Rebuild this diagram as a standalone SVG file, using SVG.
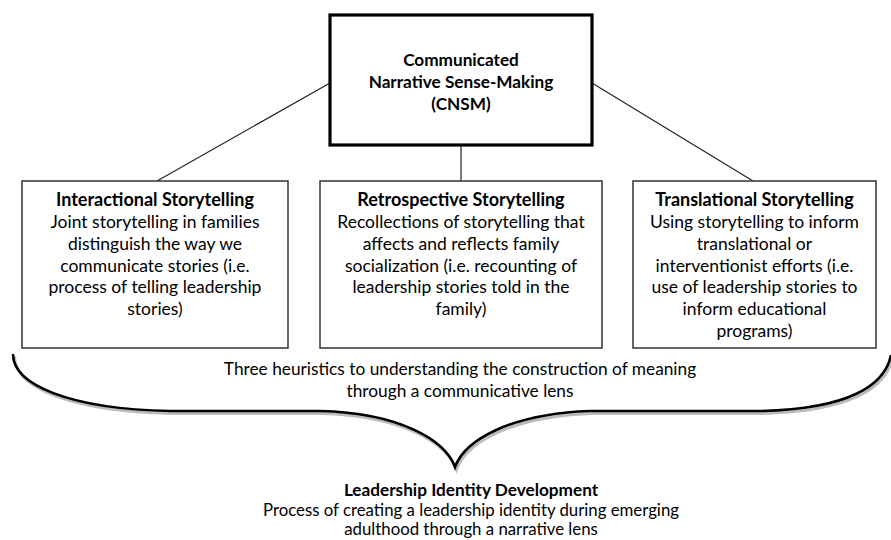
<svg xmlns="http://www.w3.org/2000/svg" width="891" height="540" viewBox="0 0 891 540">
<style>
text { font-family: Lato, "Liberation Sans", sans-serif; font-size: 17.5px; fill: #000; text-anchor: middle; }
.b { font-weight: bold; font-size: 18px; }
.box { fill: #fff; stroke: #333; stroke-width: 1.5; }
.main { fill: #fff; stroke: #000; stroke-width: 3.2; }
.conn { stroke: #222; stroke-width: 1.2; fill: none; }
.brace { fill: none; stroke: #000; stroke-width: 2.6; stroke-linejoin: miter; }
.shadow { fill: none; stroke: #bbb; stroke-width: 3; }
.big { font-size: 17.3px; }
.sm { font-size: 16.8px; }
.cb { font-size: 17.2px; }
</style>
<rect width="891" height="540" fill="#fff"/>
<g id="connectors">
<line class="conn" x1="330" y1="83" x2="157" y2="181"/>
<line class="conn" x1="461" y1="145" x2="461" y2="181"/>
<line class="conn" x1="592" y1="83" x2="753" y2="181"/>
</g>
<g id="cnsm">
<rect class="main" x="330" y="15" width="262" height="130"/>
<text class="b cb" x="461" y="66">Communicated</text>
<text class="b cb" x="461" y="88">Narrative Sense-Making</text>
<text class="b cb" x="461" y="110">(CNSM)</text>
</g>
<g id="interactional">
<rect class="box" x="22" y="181" width="266" height="167"/>
<text class="b" x="155" y="206">Interactional Storytelling</text>
<text x="155" y="228">Joint storytelling in families</text>
<text x="155" y="250">distinguish the way we</text>
<text x="155" y="272">communicate stories (i.e.</text>
<text x="155" y="293">process of telling leadership</text>
<text x="155" y="315">stories)</text>
</g>
<g id="retrospective">
<rect class="box" x="320" y="181" width="282" height="167"/>
<text class="b" x="461" y="206">Retrospective Storytelling</text>
<text x="461" y="228">Recollections of storytelling that</text>
<text x="461" y="250">affects and reflects family</text>
<text x="461" y="272">socialization (i.e. recounting of</text>
<text x="461" y="293">leadership stories told in the</text>
<text x="461" y="315">family)</text>
</g>
<g id="translational">
<rect class="box" x="633" y="181" width="243" height="167"/>
<text class="b" x="754.5" y="206">Translational Storytelling</text>
<text x="754.5" y="228">Using storytelling to inform</text>
<text x="754.5" y="250">translational or</text>
<text x="754.5" y="272">interventionist efforts (i.e.</text>
<text x="754.5" y="293">use of leadership stories to</text>
<text x="754.5" y="315">inform educational</text>
<text x="754.5" y="337">programs)</text>
</g>
<g id="brace">
<path class="shadow" transform="translate(1.5,2.5)" d="M13,354 C13,385 70,409 170,411 L 320,411 C 400,413 445,440 455,467 C 465,440 510,414 590,411 L 760,411 C 850,409 885,385 891,355"/>
<path class="brace" d="M13,354 C13,385 70,409 170,411 L 320,411 C 400,413 445,440 455,467 C 465,440 510,414 590,411 L 760,411 C 850,409 885,385 891,355"/>
</g>
<g id="heuristics">
<text class="big" x="460" y="375">Three heuristics to understanding the construction of meaning</text>
<text class="big" x="460" y="397">through a communicative lens</text>
</g>
<g id="lid">
<text class="b cb" x="471" y="496">Leadership Identity Development</text>
<text class="sm" x="471" y="516">Process of creating a leadership identity during emerging</text>
<text class="sm" x="471" y="535">adulthood through a narrative lens</text>
</g>
</svg>
